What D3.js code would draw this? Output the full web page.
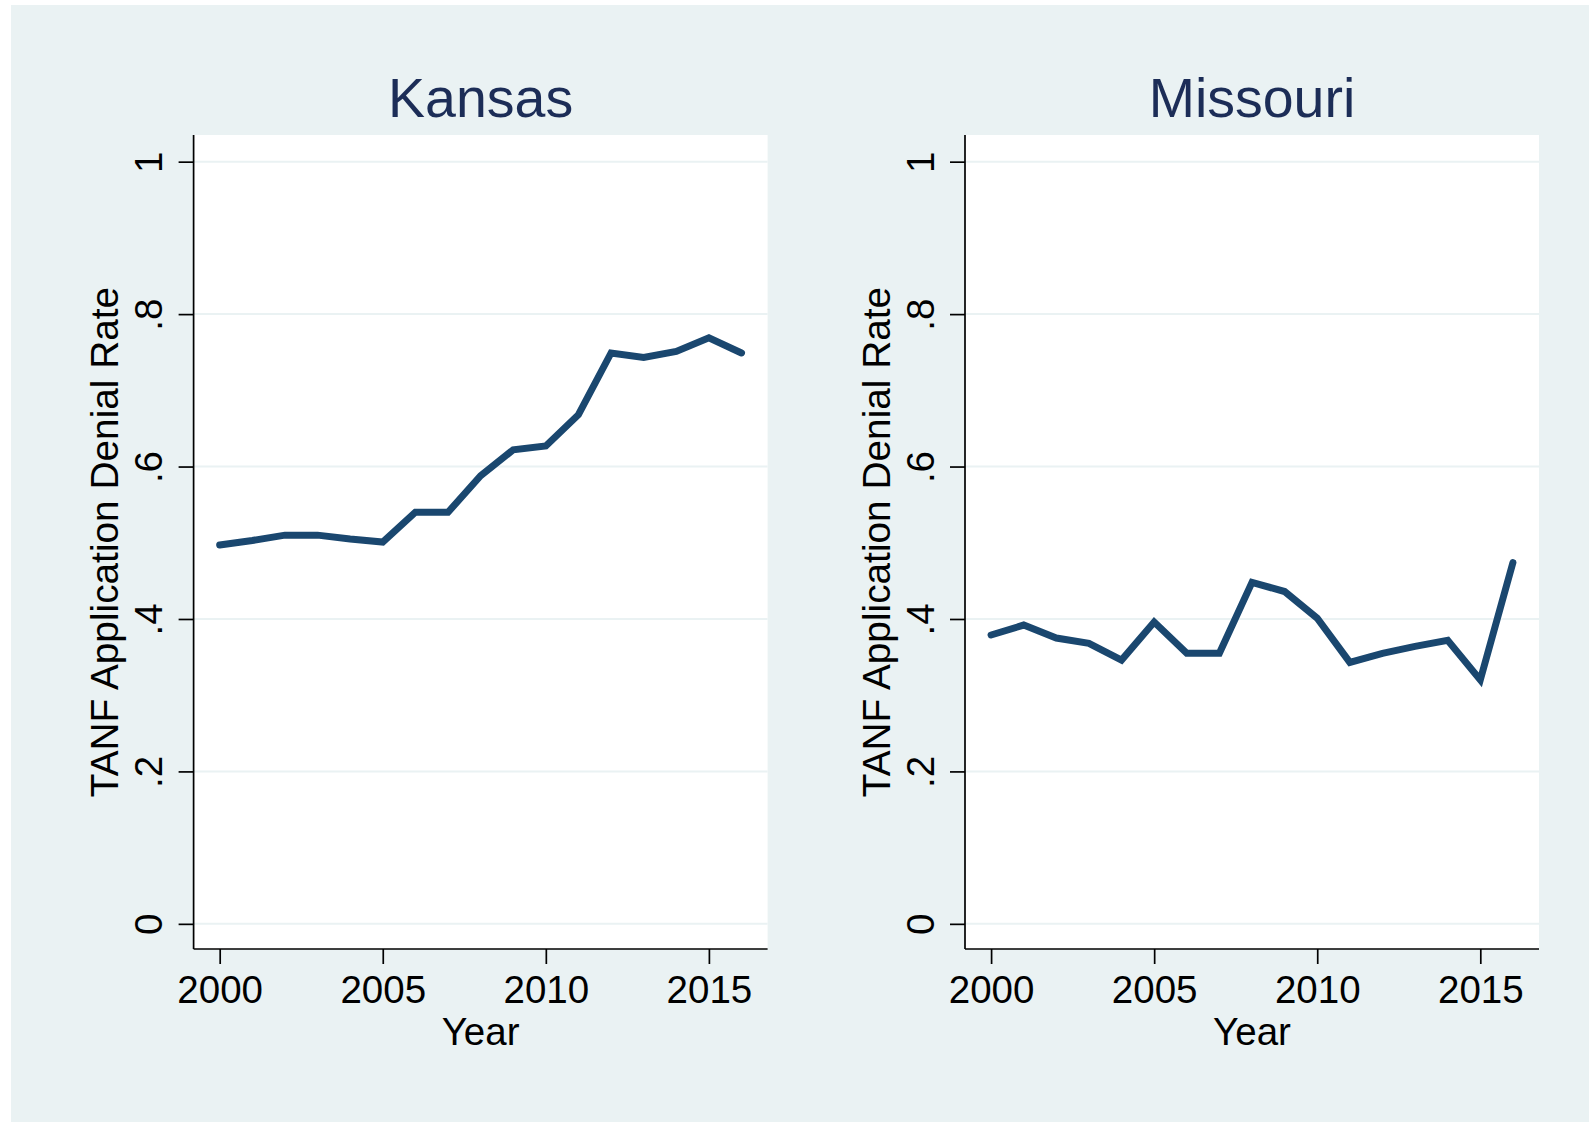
<!DOCTYPE html>
<meta charset="utf-8">
<style>
body { margin: 0; background: #fff; }
text { font-family: "Liberation Sans", Arial, Helvetica, sans-serif; fill: #000; }
.grid line { stroke: #eaf2f3; stroke-width: 2px; }
.axis path, .axis line { stroke: #000; stroke-width: 1.7px; }
.series { fill: none; stroke: #1a476f; stroke-width: 7px; stroke-linecap: round; stroke-linejoin: miter; }
</style>
<svg width="1589" height="1122"></svg>
<script src="https://d3js.org/d3.v7.min.js"></script>
<script>

// data
var years = [2000, 2001, 2002, 2003, 2004, 2005, 2006, 2007, 2008, 2009, 2010, 2011, 2012, 2013, 2014, 2015, 2016];
var kansas = [0.497, 0.503, 0.510, 0.510, 0.505, 0.501, 0.540, 0.540, 0.588, 0.622, 0.627, 0.668, 0.749, 0.743, 0.751, 0.769, 0.749];
var missouri = [0.379, 0.392, 0.375, 0.368, 0.346, 0.396, 0.355, 0.355, 0.448, 0.436, 0.401, 0.343, 0.355, 0.364, 0.372, 0.320, 0.474];
var xTicks = [2000, 2005, 2010, 2015];
var yTicks = [0, 0.2, 0.4, 0.6, 0.8, 1];
var yTickLabels = ["0", ".2", ".4", ".6", ".8", "1"];
var panels = [
  {title: "Kansas", values: kansas, left: 193.6},
  {title: "Missouri", values: missouri, left: 965}
];

var svg = d3.select("svg");

svg.append("rect")
    .attr("x", 11).attr("y", 5)
    .attr("width", 1578).attr("height", 1117)
    .attr("fill", "#eaf2f3");

var plotW = 574, plotTop = 135, plotBottom = 949;

panels.forEach(function(p) {
  var x = d3.scaleLinear().domain([1999.2, 2016.8]).range([p.left, p.left + plotW]);
  var y = d3.scaleLinear().domain([-0.033, 1.035]).range([plotBottom, plotTop]);

  var g = svg.append("g");

  g.append("rect")
      .attr("x", p.left).attr("y", plotTop)
      .attr("width", plotW).attr("height", plotBottom - plotTop)
      .attr("fill", "#fff");

  g.append("g")
      .attr("class", "grid")
    .selectAll("line")
    .data(yTicks)
    .enter().append("line")
      .attr("x1", p.left).attr("x2", p.left + plotW)
      .attr("y1", function(d) { return y(d); })
      .attr("y2", function(d) { return y(d); });

  var line = d3.line()
      .x(function(d, i) { return x(years[i]); })
      .y(function(d) { return y(d); });

  g.append("path")
      .datum(p.values)
      .attr("class", "series")
      .attr("d", line);

  // y axis
  var yAxis = g.append("g")
      .attr("class", "axis")
      .attr("transform", "translate(" + p.left + ",0)")
      .call(d3.axisLeft(y).tickValues(yTicks).tickSize(15).tickSizeOuter(0)
            .tickFormat(function(d, i) { return yTickLabels[i]; }));
  yAxis.select(".domain").attr("d", "M0," + plotTop + "V" + plotBottom);
  yAxis.selectAll("text")
      .attr("x", 0).attr("dy", null)
      .attr("y", -31.5)
      .attr("transform", "rotate(-90)")
      .attr("text-anchor", "middle")
      .style("font-size", "38.5px");

  // x axis
  var xAxis = g.append("g")
      .attr("class", "axis")
      .attr("transform", "translate(0," + plotBottom + ")")
      .call(d3.axisBottom(x).tickValues(xTicks).tickSize(15).tickSizeOuter(0)
            .tickFormat(d3.format("d")));
  xAxis.select(".domain").attr("d", "M" + p.left + ",0H" + (p.left + plotW));
  xAxis.selectAll("text")
      .attr("dy", null)
      .attr("y", 54)
      .style("font-size", "38.5px");

  g.selectAll(".axis").attr("font-family", null).attr("font-size", null);

  // titles
  g.append("text")
      .attr("x", p.left + plotW / 2).attr("y", 117)
      .attr("text-anchor", "middle")
      .style("font-size", "55.5px")
      .style("fill", "#1c2d57")
      .text(p.title);

  g.append("text")
      .attr("x", p.left + plotW / 2).attr("y", 1045)
      .attr("text-anchor", "middle")
      .style("font-size", "38.5px")
      .text("Year");

  g.append("text")
      .attr("transform", "translate(" + (p.left - 75.5) + "," + ((plotTop + plotBottom) / 2) + ") rotate(-90)")
      .attr("text-anchor", "middle")
      .style("font-size", "38.8px")
      .text("TANF Application Denial Rate");
});

</script>
